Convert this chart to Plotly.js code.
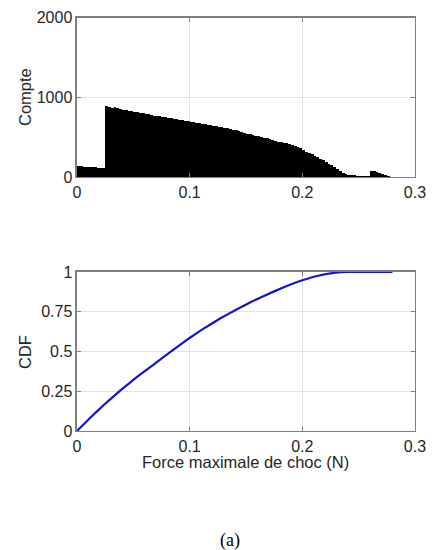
<!DOCTYPE html>
<html>
<head>
<meta charset="utf-8">
<script src="https://cdn.plot.ly/plotly-3.0.1.min.js"></script>
<style>html,body{margin:0;padding:0;background:#fff;}#chart{width:432px;height:550px;}</style>
</head>
<body>
<div id="chart"></div>
<script>
// Histogram: bin width 0.0025 N, starting at 0
const binStart = 0;
const binWidth = 0.0025;
const histCounts = [
  138,134,131,128,125,122,120,118,116,113,
  885,880,872,876,860,858,845,840,832,825,
  818,810,805,798,790,785,780,768,765,760,
  755,750,745,738,730,722,718,710,702,700,
  692,685,680,672,668,662,655,650,645,638,
  630,625,615,610,600,592,585,575,565,555,
  545,538,528,520,510,502,492,485,475,465,
  455,445,438,428,425,415,400,388,372,358,
  340,318,300,285,265,248,230,210,190,168,
  145,122,100,78,55,40,30,24,20,18,
  16,15,14,15,80,72,60,48,35,22,
  12,6,4,3,2,2,2,1,1,1
];
// CDF curve
const cdfForce = [0,0.012,0.024,0.0385,0.053,0.068,0.083,0.1,0.112,0.127,0.142,0.154,0.175,0.189,0.2,0.213,0.228,0.24,0.26,0.28];
const cdfValue = [0,0.085,0.165,0.255,0.338,0.418,0.498,0.585,0.642,0.707,0.766,0.81,0.878,0.92,0.948,0.975,0.994,1.0,1.0,1.0];

const xTicks = [0,0.1,0.2,0.3];
const xTickText = ['0','0.1','0.2','0.3'];
const y1Ticks = [0,1000,2000];
const y1TickText = ['0','1000','2000'];
const y2Ticks = [0,0.25,0.5,0.75,1];
const y2TickText = ['0','0.25','0.5','0.75','1'];

const binCenters = histCounts.map((_, i) => binStart + binWidth * (i + 0.5));

const txt = '#262626';
const axisCommon = {
  showline: true, linecolor: '#808080', linewidth: 1.5, mirror: 'ticks',
  ticks: 'inside', ticklen: 4, tickcolor: '#808080', tickwidth: 1,
  showgrid: true, gridcolor: '#e3e3e3', gridwidth: 1, zeroline: false,
  tickfont: {family: 'Liberation Sans, Arial, sans-serif', size: 16, color: txt},
  tickmode: 'array'
};

const traces = [
  {type: 'bar', x: binCenters, y: histCounts, width: binWidth, xaxis: 'x', yaxis: 'y',
   marker: {color: '#000000', line: {width: 0}}, hoverinfo: 'x+y'},
  {type: 'scatter', mode: 'lines', x: cdfForce, y: cdfValue, xaxis: 'x2', yaxis: 'y2',
   line: {color: '#1414c8', width: 2.2, shape: 'spline', smoothing: 0.3}}
];

const font = {family: 'Liberation Sans, Arial, sans-serif', size: 16.5, color: txt};
const layout = {
  width: 432, height: 550,
  margin: {l: 0, r: 0, t: 0, b: 0},
  paper_bgcolor: '#ffffff', plot_bgcolor: '#ffffff',
  showlegend: false, bargap: 0,
  xaxis: Object.assign({}, axisCommon, {domain: [0.1782, 0.9606], range: [0, 0.3], tickvals: xTicks, ticktext: xTickText, anchor: 'y'}),
  yaxis: Object.assign({}, axisCommon, {domain: [0.6782, 0.968], range: [0, 2000], tickvals: y1Ticks, ticktext: y1TickText, anchor: 'x'}),
  xaxis2: Object.assign({}, axisCommon, {domain: [0.1782, 0.9606], range: [0, 0.3], tickvals: xTicks, ticktext: xTickText, anchor: 'y2'}),
  yaxis2: Object.assign({}, axisCommon, {domain: [0.2164, 0.5055], range: [0, 1], tickvals: y2Ticks, ticktext: y2TickText, anchor: 'x2'}),
  annotations: [
    {text: 'Compte', xref: 'paper', yref: 'paper', x: 25/432, y: 1 - 97/550, textangle: -90, showarrow: false, font: font, xanchor: 'center', yanchor: 'middle'},
    {text: 'CDF', xref: 'paper', yref: 'paper', x: 25/432, y: 1 - 352/550, textangle: -90, showarrow: false, font: font, xanchor: 'center', yanchor: 'middle'},
    {text: 'Force maximale de choc (N)', xref: 'paper', yref: 'paper', x: 245/432, y: 1 - 462/550, showarrow: false, font: font, xanchor: 'center', yanchor: 'middle'},
    {text: '(a)', xref: 'paper', yref: 'paper', x: 230/432, y: 1 - 540/550, showarrow: false, font: {family: 'Liberation Serif, Times New Roman, serif', size: 18, color: '#000'}, xanchor: 'center', yanchor: 'middle'}
  ]
};

Plotly.newPlot('chart', traces, layout, {displayModeBar: false, staticPlot: true});
</script>
</body>
</html>
